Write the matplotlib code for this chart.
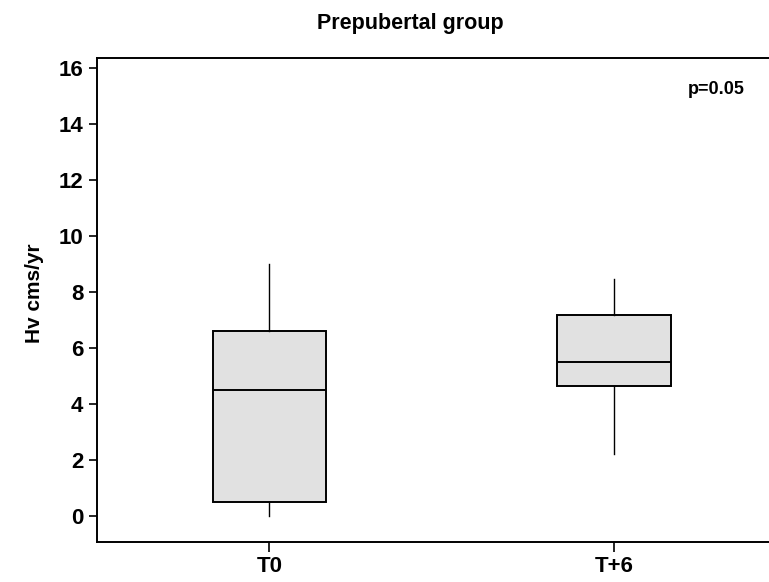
import matplotlib
matplotlib.use("Agg")
import matplotlib.pyplot as plt

# box summary (Hv cms/yr)
groups = ["T0", "T+6"]
whisker_low = [0.0, 2.2]
q1 = [0.5, 4.63]
median = [4.5, 5.5]
q3 = [6.6, 7.17]
whisker_high = [9.0, 8.47]
yticks = [0, 2, 4, 6, 8, 10, 12, 14, 16]

plt.rcParams['font.family'] = ['Liberation Sans', 'DejaVu Sans']
plt.rcParams['font.weight'] = 'bold'

fig = plt.figure(figsize=(7.69, 5.82), dpi=100)
ax = fig.add_axes([0.1265, 0.0687, 0.8957, 0.8316])

stats = []
for i in range(len(groups)):
    stats.append({"label": groups[i], "whislo": whisker_low[i], "q1": q1[i],
                  "med": median[i], "q3": q3[i], "whishi": whisker_high[i],
                  "fliers": []})

ax.bxp(stats, positions=[1, 2], widths=0.33, patch_artist=True,
       showfliers=False, showcaps=False,
       boxprops=dict(facecolor="#e1e1e1", edgecolor="black", linewidth=1.4),
       medianprops=dict(color="black", linewidth=1.4),
       whiskerprops=dict(color="black", linewidth=1.0))

ax.set_xlim(0.5, 2.5)
ax.set_ylim(-0.94, 16.35)
ax.set_yticks(yticks)
ax.set_xticks([1, 2])
ax.set_xticklabels(groups)

for s in ["left", "bottom", "top"]:
    ax.spines[s].set_linewidth(1.4)
ax.spines["right"].set_visible(False)

ax.tick_params(axis="y", labelsize=16, length=6, width=1.2, pad=4)
ax.tick_params(axis="x", labelsize=16, length=7, width=1.2, pad=3)
for lab in ax.get_xticklabels() + ax.get_yticklabels():
    lab.set_fontweight("bold")

fig.text(35 / 769, 1 - 293 / 582, "Hv cms/yr", rotation=90, ha="center",
         va="center", fontsize=15, fontweight="bold")
fig.text(410 / 769, 1 - 23 / 582, "Prepubertal group", ha="center",
         va="center", fontsize=15.5, fontweight="bold")
ax.text(0.898, 0.934, "p=0.05", transform=ax.transAxes, ha="center",
        va="center", fontsize=13, fontweight="bold")

fig.savefig("out.png", dpi=100)
